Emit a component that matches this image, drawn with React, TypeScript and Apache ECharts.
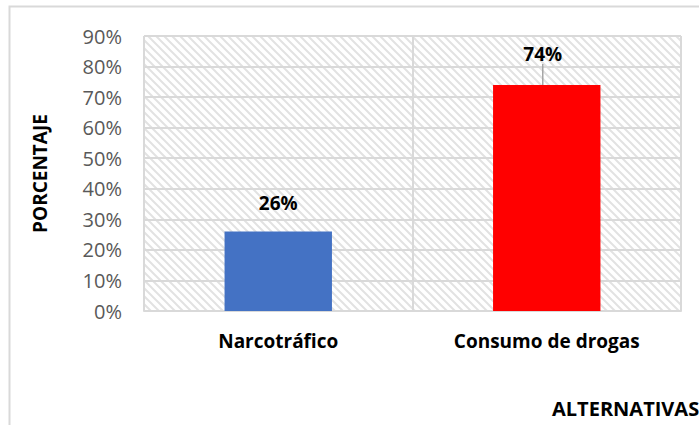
import React, { useEffect, useRef } from "react";
import * as echarts from "echarts";

const categories = ["Narcotráfico", "Consumo de drogas"];
const values = [26, 74];
const barColors = ["#4472C4", "#FF0000"];
const yTicksMax = 90;
const yTickStep = 10;
const yAxisTitle = "PORCENTAJE";
const xAxisTitle = "ALTERNATIVAS";

const hatchSvg =
  "<svg xmlns='http://www.w3.org/2000/svg' width='8' height='8'>" +
  "<path d='M-2 -2L10 10M-2 6L2 10M6 -2L10 2' stroke='#e2e2e2' stroke-width='2' fill='none'/></svg>";
const hatchUrl = "data:image/svg+xml;charset=utf-8," + encodeURIComponent(hatchSvg);

export default function App() {
  const ref = useRef<HTMLDivElement>(null);
  useEffect(() => {
    if (!ref.current) return;
    const chart = echarts.init(ref.current, undefined, { renderer: "svg" });
    const font = "'Open Sans', 'Liberation Sans', sans-serif";
    chart.setOption({
      animation: false,
      backgroundColor: "#ffffff",
      textStyle: { fontFamily: font },
      grid: {
        left: 144,
        right: 18,
        top: 36,
        bottom: 114,
        show: true,
        borderWidth: 0,
        backgroundColor: {
          image: hatchUrl,
          repeat: "repeat",
          imageWidth: 8,
          imageHeight: 8,
        } as any,
      },
      xAxis: {
        type: "category",
        data: categories,
        axisLine: { show: true, lineStyle: { color: "#d9d9d9", width: 2 } },
        axisTick: { show: false },
        splitLine: { show: true, lineStyle: { color: "#d9d9d9", width: 2 } },
        axisLabel: {
          color: "#000000",
          fontWeight: "bold",
          fontSize: 19,
          fontFamily: font,
          margin: 20,
        },
      },
      yAxis: {
        type: "value",
        min: 0,
        max: yTicksMax,
        interval: yTickStep,
        axisLine: { show: false },
        axisTick: { show: false },
        splitLine: { show: true, lineStyle: { color: "#d9d9d9", width: 2 } },
        axisLabel: {
          color: "#595959",
          fontSize: 20,
          fontFamily: font,
          margin: 22,
          formatter: (v: number) => v + "%",
        },
        name: yAxisTitle,
        nameLocation: "middle",
        nameGap: 95,
        nameRotate: 90,
        nameTextStyle: {
          color: "#000000",
          fontWeight: "bold",
          fontSize: 19,
          fontFamily: font,
        },
      },
      graphic: [
        {
          type: "rect",
          shape: { x: 9.5, y: 6.5, width: 760, height: 460 },
          style: { fill: "none", stroke: "#d9d9d9", lineWidth: 2 },
          silent: true,
          z: -1,
        },
        {
          type: "text",
          left: 552,
          top: 398,
          style: {
            text: xAxisTitle,
            fill: "#000000",
            font: "bold 20px " + font,
          },
        },
      ],
      series: [
        {
          type: "bar",
          barWidth: "40%",
          data: values.map((v, i) => ({
            value: v,
            itemStyle: { color: barColors[i] },
            label: i === 1 ? { distance: 4 } : { distance: 19 },
            labelLine: { show: i === 1 },
          })),
          label: {
            show: true,
            position: "top",
            formatter: (p: any) => p.value + "%",
            color: "#000000",
            fontWeight: "bold",
            fontSize: 19,
            fontFamily: font,
          },
          labelLayout: (p: any) =>
            p.dataIndex === 1 ? { dx: -4, dy: -17 } : {},
          labelLine: { show: true, lineStyle: { color: "#a6a6a6", width: 1.5 } },
        },
      ],
    });
    return () => chart.dispose();
  }, []);
  return <div ref={ref} style={{ width: 699, height: 425, position: "absolute", left: 0, top: 0 }} />;
}
